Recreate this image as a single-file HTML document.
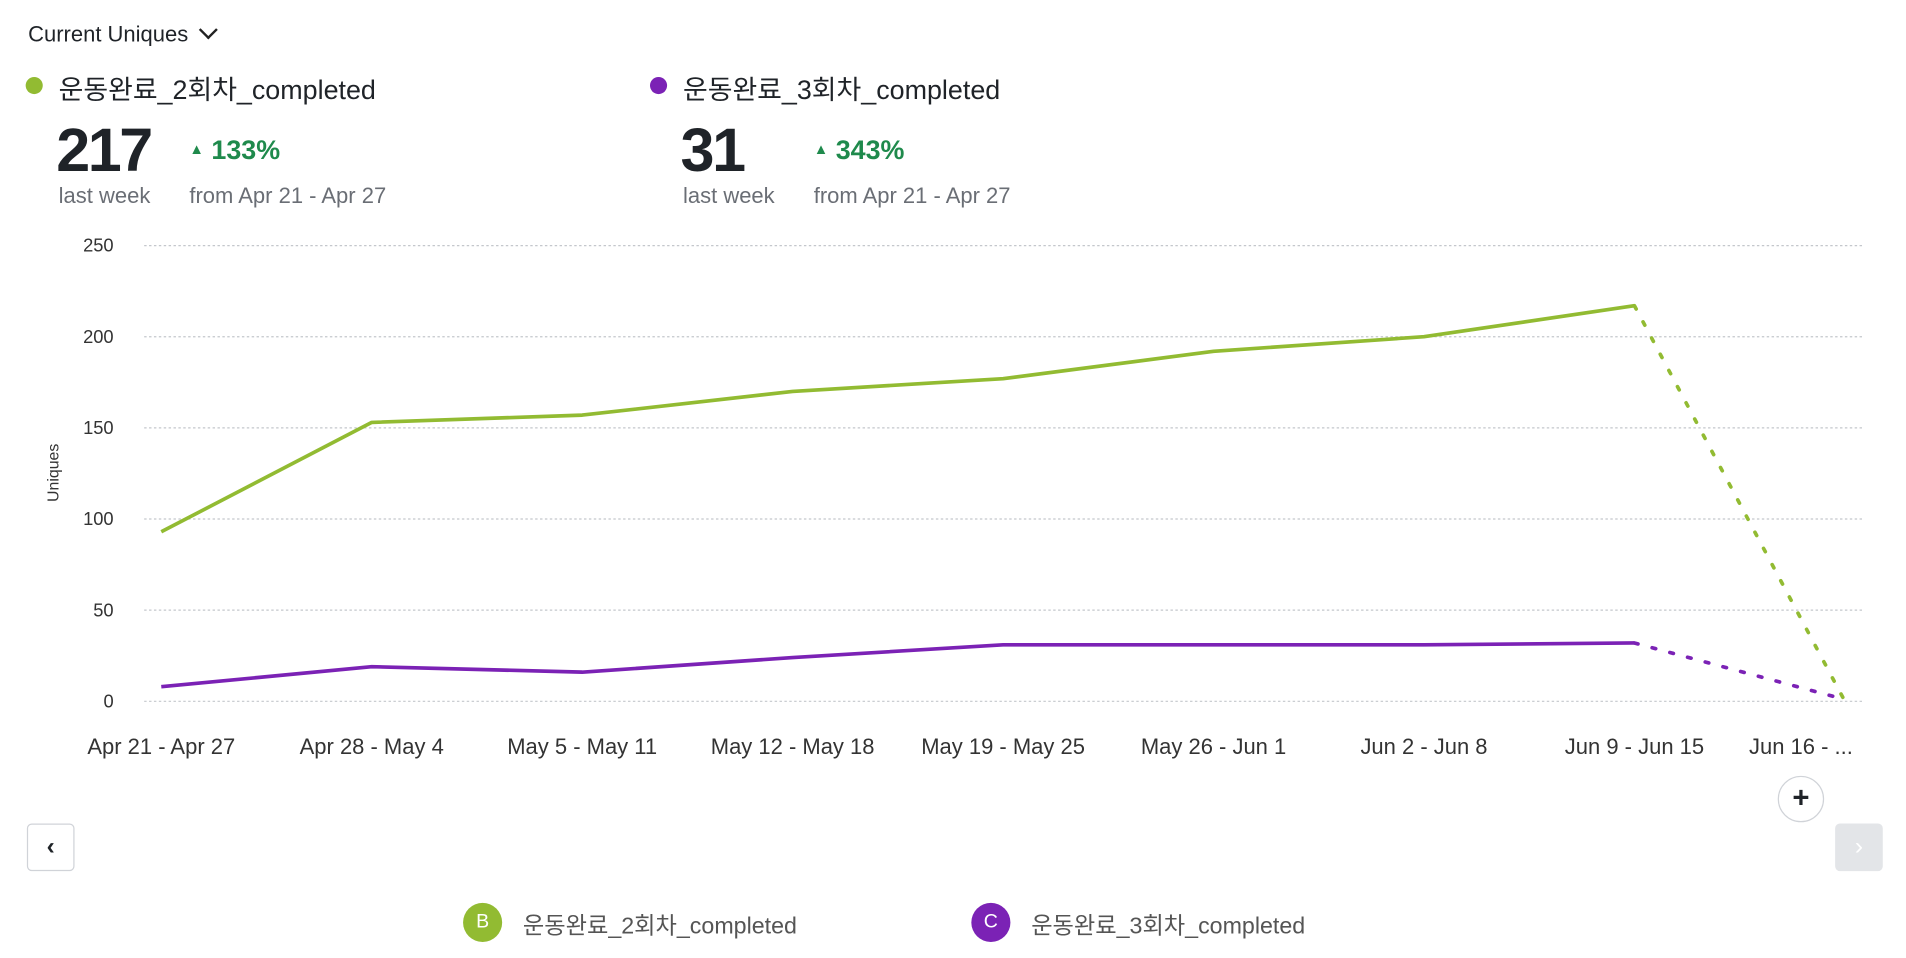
<!DOCTYPE html>
<html><head><meta charset="utf-8"><style>
html,body{margin:0;padding:0;background:#fff;width:1906px;height:958px;overflow:hidden}
#wrap{width:1560px;height:784px;transform:scale(1.22179);transform-origin:0 0;position:relative;font-family:"Liberation Sans","Noto Sans CJK KR",sans-serif;color:#1f2328}
.abs{position:absolute;white-space:nowrap}
</style></head><body>
<div id="wrap">
<div class="abs" style="left:23px;top:18px;font-size:18px">Current Uniques <span style="display:inline-block;width:9px;height:9px;border-right:2px solid #222;border-bottom:2px solid #222;transform:rotate(45deg);margin-left:6px;position:relative;top:-4px"></span></div>

<div class="abs" style="left:21px;top:63px;width:14px;height:14px;border-radius:50%;background:#92bb32"></div>
<div class="abs" style="left:48px;top:56px;font-size:22px">운동완료_2회차_completed</div>
<div class="abs" style="left:46px;top:94px;font-size:50px;font-weight:bold;letter-spacing:-2px">217</div>
<div class="abs" style="left:155px;top:110px;font-size:22px;font-weight:bold;color:#1f8a4c"><span style="font-size:12px;position:relative;top:-4px">▲</span> 133%</div>
<div class="abs" style="left:48px;top:150px;font-size:18px;color:#6a6e75">last week</div>
<div class="abs" style="left:155px;top:150px;font-size:18px;color:#6a6e75">from Apr 21 - Apr 27</div>

<div class="abs" style="left:532px;top:63px;width:14px;height:14px;border-radius:50%;background:#7b22b5"></div>
<div class="abs" style="left:559px;top:56px;font-size:22px">운동완료_3회차_completed</div>
<div class="abs" style="left:557px;top:94px;font-size:50px;font-weight:bold;letter-spacing:-2px">31</div>
<div class="abs" style="left:666px;top:110px;font-size:22px;font-weight:bold;color:#1f8a4c"><span style="font-size:12px;position:relative;top:-4px">▲</span> 343%</div>
<div class="abs" style="left:559px;top:150px;font-size:18px;color:#6a6e75">last week</div>
<div class="abs" style="left:666px;top:150px;font-size:18px;color:#6a6e75">from Apr 21 - Apr 27</div>

<svg id="chart" class="abs" style="left:0;top:0" width="1560" height="784"></svg>

<div class="abs" style="left:1455px;top:635px;width:36px;height:36px;border:1px solid #d0d3d8;border-radius:50%;background:#fff;font-size:24px;line-height:36px;text-align:center;font-weight:bold">+</div>
<div class="abs" style="left:22px;top:674px;width:37px;height:37px;border:1px solid #d0d3d8;border-radius:4px;background:#fff;font-size:20px;line-height:36px;text-align:center;font-weight:bold">‹</div>
<div class="abs" style="left:1502px;top:674px;width:39px;height:39px;border-radius:4px;background:#e3e5e8;color:#fff;font-size:20px;line-height:38px;text-align:center">›</div>

<div class="abs" style="left:379px;top:739px;width:32px;height:32px;border-radius:50%;background:#92bb32;color:#fff;font-size:16px;line-height:32px;text-align:center">B</div>
<div class="abs" style="left:428px;top:743px;font-size:19px;color:#555">운동완료_2회차_completed</div>
<div class="abs" style="left:795px;top:739px;width:32px;height:32px;border-radius:50%;background:#7b22b5;color:#fff;font-size:16px;line-height:32px;text-align:center">C</div>
<div class="abs" style="left:844px;top:743px;font-size:19px;color:#555">운동완료_3회차_completed</div>
</div>
<script>
const categories=["Apr 21 - Apr 27","Apr 28 - May 4","May 5 - May 11","May 12 - May 18","May 19 - May 25","May 26 - Jun 1","Jun 2 - Jun 8","Jun 9 - Jun 15","Jun 16 - ..."];
const series2=[93,153,157,170,177,192,200,217,0];
const series3=[8,19,16,24,31,31,31,32,1];
const yTicks=[0,50,100,150,200,250];
const NS="http://www.w3.org/2000/svg";
const svg=document.getElementById('chart');
const x0=132,x1=1510,yBase=574,yTop=201,yMax=250;
const xs=i=>x0+i*(x1-x0)/(categories.length-1);
const ys=v=>yBase-v*(yBase-yTop)/yMax;
function mk(t,a){const e=document.createElementNS(NS,t);for(const k in a)e.setAttribute(k,a[k]);svg.appendChild(e);return e;}
yTicks.forEach(v=>{
 const g=mk('line',{x1:118,x2:1525,y1:ys(v),y2:ys(v),stroke:'#c4c7cc','stroke-width':1,'stroke-dasharray':'2,2'});
 
 
 const t=mk('text',{x:93,y:ys(v)+5,'text-anchor':'end','font-size':15,fill:'#333','font-family':'Liberation Sans, sans-serif'});
 t.textContent=v;
 
 
});
const yt=mk('text',{x:0,y:0,transform:'translate(48,387) rotate(-90)','text-anchor':'middle','font-size':13,fill:'#333','font-family':'Liberation Sans, sans-serif'});
yt.textContent='Uniques';


categories.forEach((c,i)=>{
 const t=mk('text',{x:Math.min(xs(i),1474),y:617,'text-anchor':'middle','font-size':18,fill:'#333','font-family':'Liberation Sans, sans-serif'});
 t.textContent=c;
 
 
});
function draw(data,color,name){
 const n=data.length;
 const solid=data.slice(0,n-1).map((v,i)=>xs(i)+','+ys(v)).join(' ');
 const p=mk('polyline',{points:solid,fill:'none',stroke:color,'stroke-width':3,'stroke-linejoin':'round'});
 
 
 const d=mk('line',{x1:xs(n-2),y1:ys(data[n-2]),x2:xs(n-1),y2:ys(data[n-1]),stroke:color,'stroke-width':3,'stroke-dasharray':'3,12','stroke-linecap':'round'});
 
 
}
draw(series2,'#92bb32','series-2');
draw(series3,'#7b22b5','series-3');
</script>
</body></html>
